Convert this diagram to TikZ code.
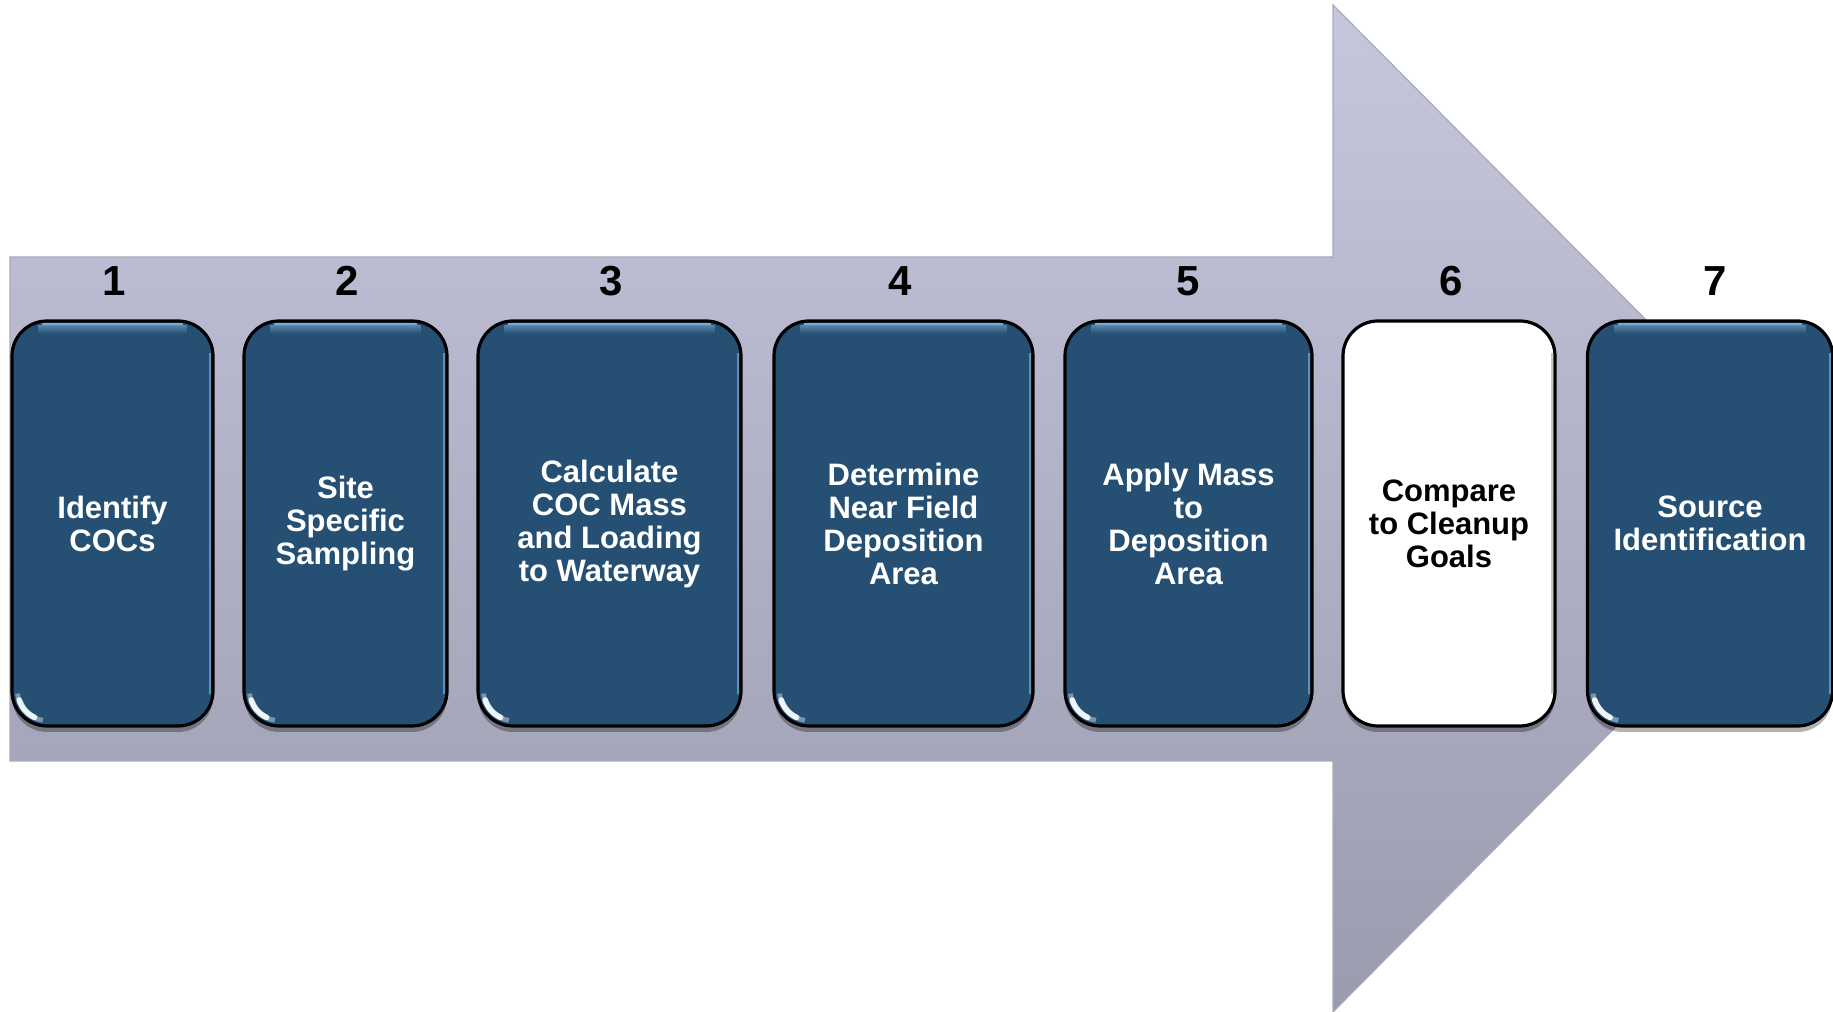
\documentclass[tikz,border=0pt]{standalone}
\usepackage{fontspec}
\setmainfont{Liberation Sans}
\usetikzlibrary{shadows}
\definecolor{boxblue}{RGB}{38,80,115}
\definecolor{hiblue}{RGB}{140,185,225}
\definecolor{arrowtop}{RGB}{198,199,221}
\definecolor{arrowbot}{RGB}{154,155,174}
\definecolor{arrowedge}{RGB}{168,169,186}
\newcommand\bxfont{\fontsize{15.5}{16.5}\selectfont\bfseries}
\newcommand\nmfont{\fontsize{21}{21}\selectfont\bfseries}
\newcommand\gloss[1]{%
  \fill[hiblue!85!boxblue] ([xshift=16pt,yshift=-1.6pt]#1.north west) rectangle ([xshift=-16pt,yshift=-3pt]#1.north east);
  \shade[top color=hiblue!50!boxblue, bottom color=boxblue] ([xshift=14pt,yshift=-3pt]#1.north west) rectangle ([xshift=-14pt,yshift=-7pt]#1.north east);
  \draw[hiblue!60!boxblue, line width=1pt] ([xshift=-2.2pt,yshift=-17pt]#1.north east) -- ([xshift=-2.2pt,yshift=17pt]#1.south east);
  \draw[white!50!hiblue, line width=2.4pt, opacity=0.5] ([shift={(18.3pt,18.3pt)}]#1.south west) ++(185:14.8pt) arc[start angle=185,end angle=262,radius=14.8pt];
  \draw[white!85!hiblue, line width=2.8pt, line cap=round] ([shift={(18.3pt,18.3pt)}]#1.south west) ++(198:14.6pt) arc[start angle=198,end angle=245,radius=14.6pt];
}
\begin{document}
\begin{tikzpicture}[x=0.5pt,y=0.5pt,
  stepbox/.style={draw=black, line width=1.6pt, rounded corners=17.5pt, fill=boxblue,
    minimum height=202.5pt, inner sep=0pt, text=white, font=\bxfont, align=center,
    drop shadow={shadow xshift=0pt, shadow yshift=-3pt, opacity=0.3, fill=black}},
  numlabel/.style={font=\nmfont, anchor=base, inner sep=0pt, text=black}]
\useasboundingbox (0,0) rectangle (1833,1012);
% big arrow
\shadedraw[top color=arrowtop, bottom color=arrowbot, draw=arrowedge, line width=0.6pt]
  (10,251) -- (10,755) -- (1333,755) -- (1333,1007) -- (1833,504) -- (1333,0) -- (1333,251) -- cycle;
% numbers
\node[numlabel] (n1) at (114,716) {1};
\node[numlabel] (n2) at (347,716) {2};
\node[numlabel] (n3) at (611,716) {3};
\node[numlabel] (n4) at (900,716) {4};
\node[numlabel] (n5) at (1188,716) {5};
\node[numlabel] (n6) at (1451,716) {6};
\node[numlabel] (n7) at (1715,716) {7};
% boxes
\node[stepbox, minimum width=100.5pt] (b1) at (112.5,488.5) {Identify\\COCs};
\node[stepbox, minimum width=101.5pt] (b2) at (345.5,488.5) {Site\\Specific\\Sampling};
\node[stepbox, minimum width=131.5pt] (b3) at (609.5,488.5) {Calculate\\COC Mass\\and Loading\\to Waterway};
\node[stepbox, minimum width=129.5pt] (b4) at (903.5,488.5) {Determine\\Near Field\\Deposition\\Area};
\node[stepbox, minimum width=123.5pt] (b5) at (1188.5,488.5) {Apply Mass\\to\\Deposition\\Area};
\node[stepbox, minimum width=106pt, fill=white, text=black] (b6) at (1449,488.5) {Compare\\to Cleanup\\Goals};
\node[stepbox, minimum width=122.5pt] (b7) at (1710,488.5) {Source\\Identification};
\gloss{b1}\gloss{b2}\gloss{b3}\gloss{b4}\gloss{b5}\gloss{b7}
\draw[gray!45, line width=1pt] ([xshift=-2.2pt,yshift=-17pt]b6.north east) -- ([xshift=-2.2pt,yshift=17pt]b6.south east);
\end{tikzpicture}
\end{document}
